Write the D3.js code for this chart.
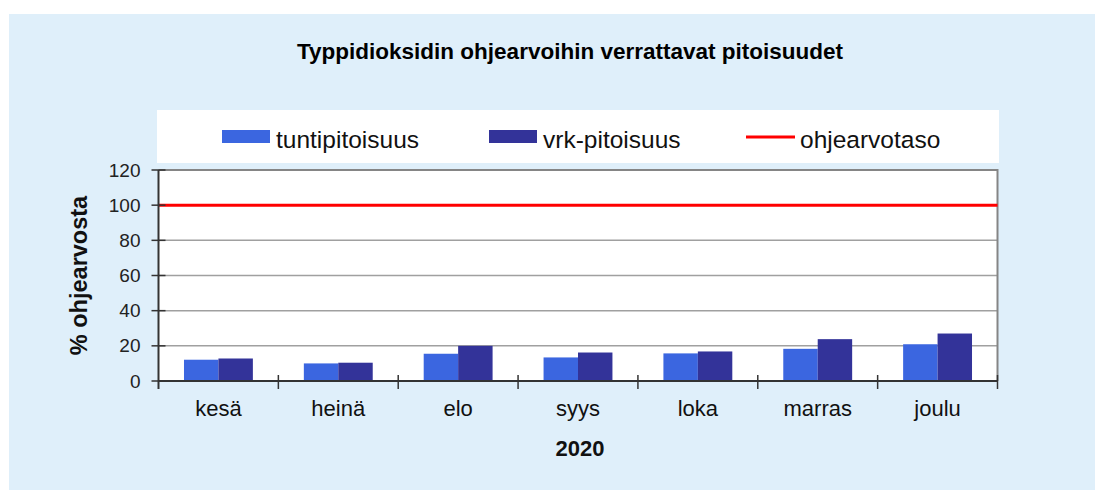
<!DOCTYPE html>
<html>
<head>
<meta charset="utf-8">
<script src="https://cdn.jsdelivr.net/npm/d3@7"></script>
<style>
  html, body { margin: 0; padding: 0; background: #ffffff; }
  svg { display: block; font-family: "Liberation Sans", Arial, sans-serif; }
</style>
</head>
<body>
<svg id="chart" width="1095" height="491"></svg>
<script>
// ---- data ----
const months = ["kesä", "heinä", "elo", "syys", "loka", "marras", "joulu"];
const tuntipitoisuus = [12.1, 10.0, 15.5, 13.4, 15.7, 18.3, 20.9];
const vrkPitoisuus = [12.8, 10.4, 20.0, 16.2, 16.8, 23.8, 27.0];
const yTickValues = [0, 20, 40, 60, 80, 100, 120];
const ohjearvotaso = 100;
const seriesNames = ["tuntipitoisuus", "vrk-pitoisuus", "ohjearvotaso"];
const titleText = "Typpidioksidin ohjearvoihin verrattavat pitoisuudet";
const yAxisTitle = "% ohjearvosta";
const xAxisTitle = "2020";

// ---- styles ----
const colLight = "#3b66e0";
const colDark = "#333399";
const colRed = "#ff0000";
const bgBlue = "#dfeffa";

const svg = d3.select("#chart");

// background panel
svg.append("rect").attr("x", 9).attr("y", 14).attr("width", 1086).attr("height", 476).attr("fill", bgBlue);

// title
svg.append("text").attr("x", 570).attr("y", 59).attr("text-anchor", "middle")
  .attr("font-size", 22.5).attr("font-weight", "bold").attr("fill", "#000")
  .text(titleText);

// legend box
svg.append("rect").attr("x", 157).attr("y", 110).attr("width", 842).attr("height", 53).attr("fill", "#fff");

const plot = { left: 158.5, right: 997.5, top: 170, bottom: 381 };

// scales
const x0 = d3.scaleBand().domain(months).range([plot.left, plot.right]).paddingInner(0).paddingOuter(0);
const x1 = d3.scaleBand().domain(["t", "v"]).range([0, x0.bandwidth()]).paddingInner(0).paddingOuter(0.74);
const y = d3.scaleLinear().domain([0, 120]).range([plot.bottom, plot.top]);

// plot area
svg.append("rect").attr("x", plot.left).attr("y", plot.top)
  .attr("width", plot.right - plot.left).attr("height", plot.bottom - plot.top).attr("fill", "#fff");

// gridlines
svg.append("g").selectAll("line").data(yTickValues.filter(v => v > 0 && v < 120)).join("line")
  .attr("x1", plot.left).attr("x2", plot.right)
  .attr("y1", d => y(d)).attr("y2", d => y(d))
  .attr("stroke", "#a0a0a0").attr("stroke-width", 1.5);

// frame top & right
svg.append("path")
  .attr("d", `M${plot.left},${y(120)}H${plot.right}V${plot.bottom}`)
  .attr("fill", "none").attr("stroke", "#858585").attr("stroke-width", 2);

// bars
const data = months.map((m, i) => ({ m, t: tuntipitoisuus[i], v: vrkPitoisuus[i] }));
const groups = svg.append("g").selectAll("g").data(data).join("g")
  .attr("transform", d => `translate(${x0(d.m)},0)`);
groups.append("rect")
  .attr("x", x1("t")).attr("width", x1.bandwidth())
  .attr("y", d => y(d.t)).attr("height", d => y(0) - y(d.t))
  .attr("fill", colLight);
groups.append("rect")
  .attr("x", x1("v")).attr("width", x1.bandwidth())
  .attr("y", d => y(d.v)).attr("height", d => y(0) - y(d.v))
  .attr("fill", colDark);

// guideline
svg.append("line").attr("x1", plot.left).attr("x2", plot.right)
  .attr("y1", y(ohjearvotaso)).attr("y2", y(ohjearvotaso))
  .attr("stroke", colRed).attr("stroke-width", 3);

// y axis
const yAxis = d3.axisLeft(y).tickValues(yTickValues).tickSize(0).tickPadding(18);
const yg = svg.append("g").attr("transform", `translate(${plot.left},0)`).call(yAxis);
yg.select(".domain").remove();
yg.selectAll("text").attr("font-size", 19).attr("fill", "#222").attr("font-family", "Liberation Sans, Arial, sans-serif");
// y ticks crossing axis
svg.append("g").selectAll("line").data(yTickValues).join("line")
  .attr("x1", plot.left - 7).attr("x2", plot.left + 7)
  .attr("y1", d => y(d)).attr("y2", d => y(d))
  .attr("stroke", "#333").attr("stroke-width", 1.5);
svg.append("line").attr("x1", plot.left).attr("x2", plot.left)
  .attr("y1", plot.top).attr("y2", plot.bottom + 8)
  .attr("stroke", "#333").attr("stroke-width", 2);

// x axis
svg.append("line").attr("x1", plot.left).attr("x2", plot.right)
  .attr("y1", plot.bottom).attr("y2", plot.bottom)
  .attr("stroke", "#333").attr("stroke-width", 2);
const boundaries = months.map(m => x0(m)).concat([x0(months[months.length - 1]) + x0.bandwidth()]);
svg.append("g").selectAll("line").data(boundaries.slice(1)).join("line")
  .attr("x1", d => d).attr("x2", d => d)
  .attr("y1", plot.bottom - 6).attr("y2", plot.bottom + 8)
  .attr("stroke", "#333").attr("stroke-width", 1.5);
const xAxis = d3.axisBottom(x0).tickSize(0).tickPadding(0);
const xg = svg.append("g").attr("transform", `translate(0,${plot.bottom})`).call(xAxis);
xg.select(".domain").remove();
xg.selectAll("text").attr("font-size", 22).attr("fill", "#111")
  .attr("font-family", "Liberation Sans, Arial, sans-serif")
  .attr("dy", null).attr("y", 35);

// axis titles
svg.append("text").attr("x", (plot.left + plot.right) / 2 + 2).attr("y", 456).attr("text-anchor", "middle")
  .attr("font-size", 22).attr("font-weight", "bold").attr("fill", "#111").text(xAxisTitle);
svg.append("text").attr("transform", `translate(87,${(plot.top + plot.bottom) / 2}) rotate(-90)`)
  .attr("text-anchor", "middle").attr("font-size", 23.5).attr("font-weight", "bold").attr("fill", "#111")
  .text(yAxisTitle);

// legend
const legY = 137;
const legItems = [
  { name: seriesNames[0], type: "rect", color: colLight, x: 222 },
  { name: seriesNames[1], type: "rect", color: colDark, x: 489 },
  { name: seriesNames[2], type: "line", color: colRed, x: 746 }
];
const lg = svg.append("g").selectAll("g").data(legItems).join("g")
  .attr("transform", d => `translate(${d.x},${legY})`);
lg.filter(d => d.type === "rect").append("rect")
  .attr("x", 0).attr("y", -7).attr("width", 48).attr("height", 13).attr("fill", d => d.color);
lg.filter(d => d.type === "line").append("line")
  .attr("x1", 0).attr("x2", 49).attr("y1", 0).attr("y2", 0)
  .attr("stroke", d => d.color).attr("stroke-width", 3);
lg.append("text").attr("x", 54).attr("y", 11).attr("font-size", 24.5).attr("fill", "#111")
  .text(d => d.name);
</script>
</body>
</html>
